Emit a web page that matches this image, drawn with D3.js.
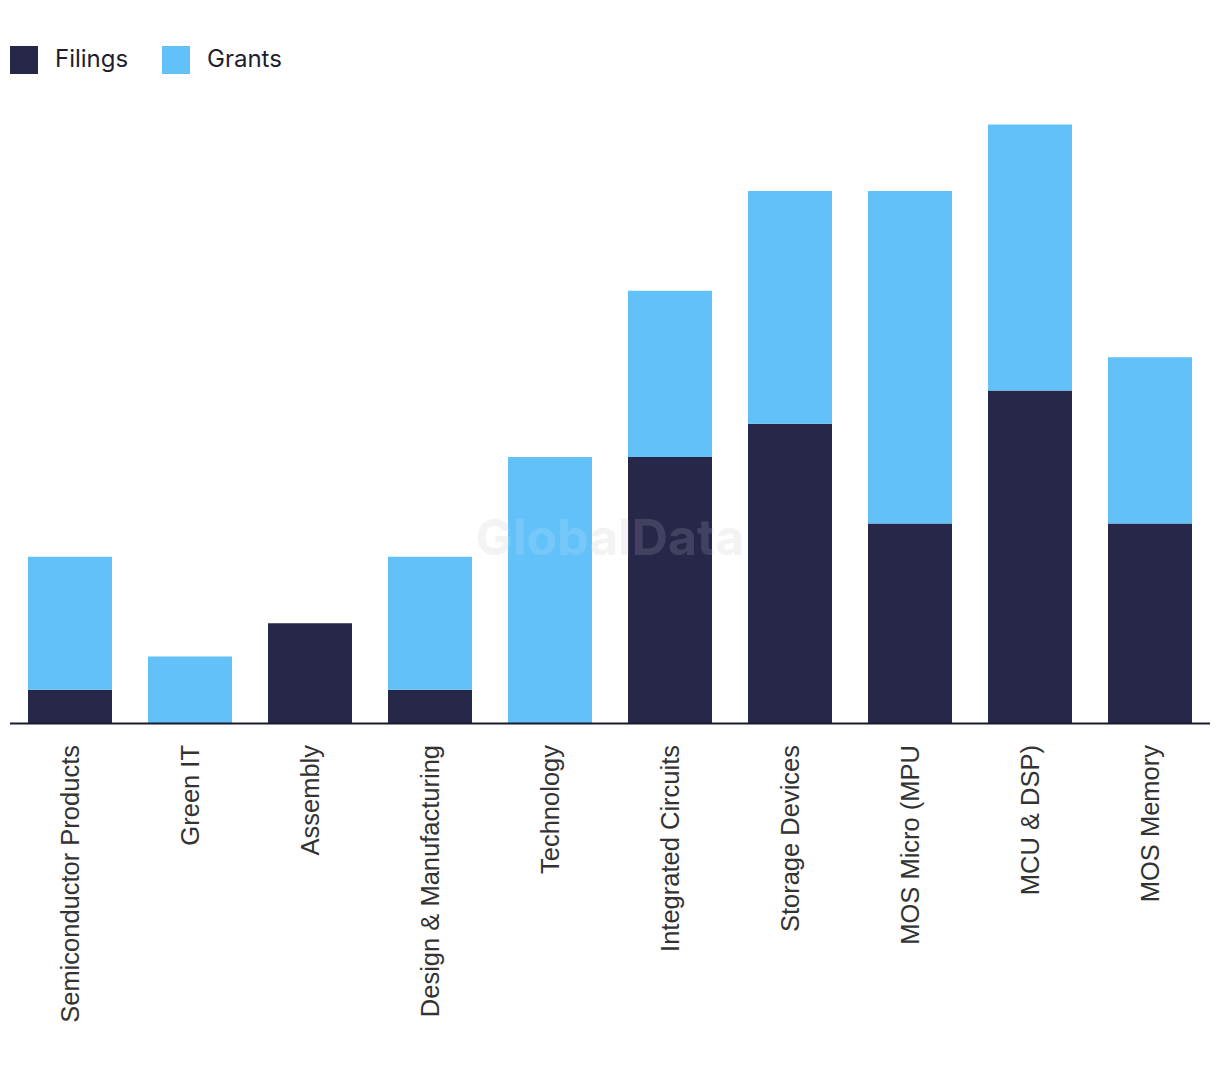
<!DOCTYPE html>
<html><head><meta charset="utf-8">
<script src="https://cdn.jsdelivr.net/npm/d3@7"></script>
<style>body{margin:0;background:#fff;} svg{display:block;}</style>
</head><body>
<svg id="chart" width="1220" height="1074"></svg>
<script>
const categories = ["Semiconductor Products","Green IT","Assembly","Design & Manufacturing","Technology","Integrated Circuits","Storage Devices","MOS Micro (MPU","MCU & DSP)","MOS Memory"];
const filings = [1,0,3,1,0,8,9,6,10,6];
const grants = [4,2,0,4,8,5,7,10,8,5];
const seriesNames = ["Filings","Grants"];
const colors = ["#27274a","#62c1f9"];

const svg = d3.select("#chart");
const x = d3.scaleBand().domain(categories).range([10,1210]).paddingInner(0.3).paddingOuter(0.15);
const y = d3.scaleLinear().domain([0,18]).range([723,124.5]);

const data = categories.map((c,i)=>({cat:c, Filings:filings[i], Grants:grants[i]}));
const stack = d3.stack().keys(seriesNames)(data);

// watermark
svg.append("text").attr("x",610).attr("y",555).attr("text-anchor","middle")
  .attr("font-family","Inter, 'Open Sans', sans-serif").attr("font-weight",700).attr("font-size",50)
  .attr("fill","#e6e6e6").attr("opacity",0.5).text("GlobalData");

svg.append("g").selectAll("g").data(stack).join("g").attr("fill",(d,i)=>colors[i])
  .selectAll("rect").data(d=>d).join("rect")
  .attr("x",d=>x(d.data.cat)).attr("width",x.bandwidth())
  .attr("y",d=>y(d[1])).attr("height",d=>y(d[0])-y(d[1]));

svg.append("text").attr("x",610).attr("y",555).attr("text-anchor","middle")
  .attr("font-family","Inter, 'Open Sans', sans-serif").attr("font-weight",700).attr("font-size",50)
  .attr("fill","#ffffff").attr("opacity",0.12).text("GlobalData");

const xAxis = d3.axisBottom(x).tickSize(0).tickPadding(0);
const gx = svg.append("g").attr("transform","translate(0,723)").call(xAxis);
gx.select(".domain").attr("stroke","#1a1a2e").attr("stroke-width",2).attr("d","M10,0.5H1210");
gx.selectAll("text").attr("font-family","'Liberation Sans', Arial, sans-serif").attr("font-size",25.5)
  .attr("fill","#333").attr("text-anchor","end").attr("dy","0.35em")
  .attr("transform","translate(0,22) rotate(-90)").attr("x",0).attr("y",0);

// legend
const lg = svg.append("g");
const lx = [10,162];
seriesNames.forEach((s,i)=>{
  lg.append("rect").attr("x",lx[i]).attr("y",46).attr("width",28).attr("height",28).attr("fill",colors[i]);
  lg.append("text").attr("x",lx[i]+45).attr("y",67).attr("font-family","Inter, sans-serif").attr("font-size",24)
    .attr("fill","#1e1e2e").text(s);
});
</script>
</body></html>
